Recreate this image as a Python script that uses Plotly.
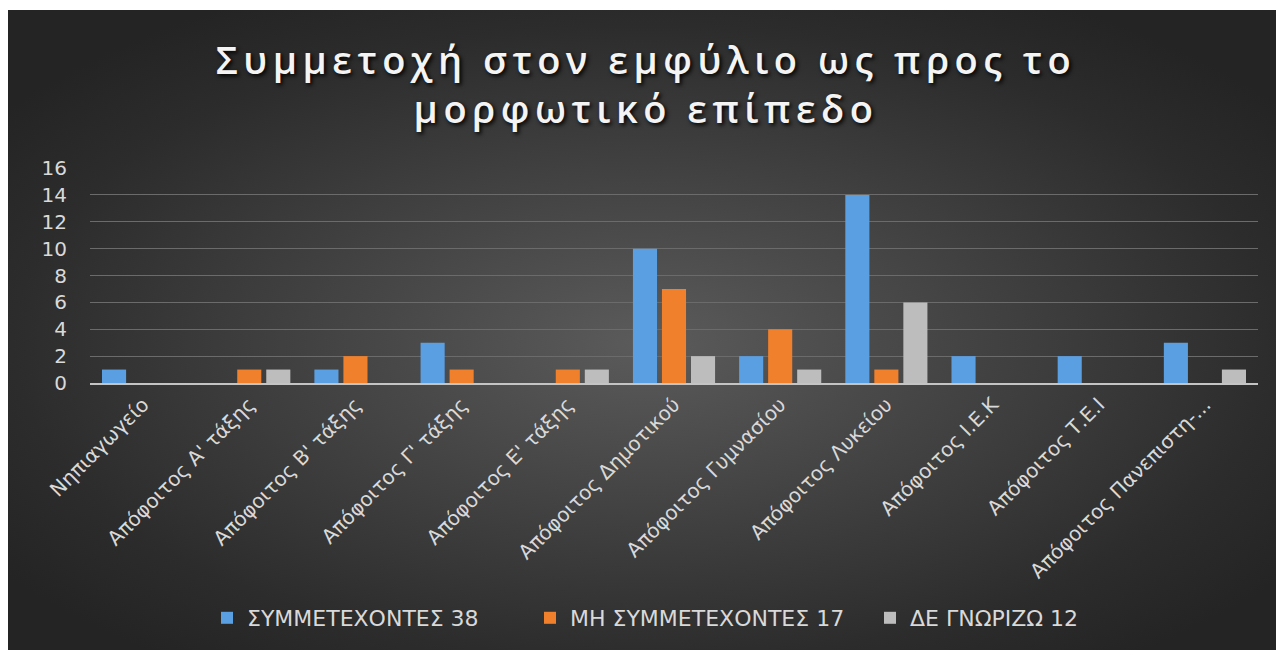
import base64
import plotly.graph_objects as go

categories = [
    "Νηπιαγωγείο",
    "Απόφοιτος Α' τάξης",
    "Απόφοιτος Β' τάξης",
    "Απόφοιτος Γ' τάξης",
    "Απόφοιτος Ε' τάξης",
    "Απόφοιτος Δημοτικού",
    "Απόφοιτος Γυμνασίου",
    "Απόφοιτος Λυκείου",
    "Απόφοιτος Ι.Ε.Κ",
    "Απόφοιτος Τ.Ε.Ι",
    "Απόφοιτος Πανεπιστη-...",
]
participants = [1, 0, 1, 3, 0, 10, 2, 14, 2, 2, 3]
non_participants = [0, 1, 2, 1, 1, 7, 4, 1, 0, 0, 0]
dont_know = [0, 1, 0, 0, 1, 2, 1, 6, 0, 0, 1]

series_names = ["ΣΥΜΜΕΤΕΧΟΝΤΕΣ 38", "ΜΗ ΣΥΜΜΕΤΕΧΟΝΤΕΣ 17", "ΔΕ ΓΝΩΡΙΖΩ 12"]
series_values = [participants, non_participants, dont_know]
series_colors = ["#5b9fe3", "#f0802c", "#bdbdbd"]

y_ticks = [0, 2, 4, 6, 8, 10, 12, 14, 16]

# page body has an 8px margin; figure sized to fit the window
W, H = 1276, 642
L, R, T, B = 82, 26, 160, 267
pw, ph = W - L - R, H - T - B

FONT = "DejaVu Sans"
TFONT = "Open Sans"
TXT = "#d9d9d9"

legend_ids = ["legend", "legend2", "legend3"]
legend_text_x = [239, 562, 902]  # figure px where each legend text starts

fig = go.Figure()
for name, vals, col, lid in zip(series_names, series_values, series_colors, legend_ids):
    fig.add_trace(go.Bar(x=categories, y=vals, name=name, legend=lid,
                         marker=dict(color=col, line=dict(width=0))))

svg = (
    "<svg xmlns='http://www.w3.org/2000/svg' width='1276' height='640' preserveAspectRatio='none'>"
    "<defs><radialGradient id='g' cx='50%' cy='52%' r='62%'>"
    "<stop offset='0' stop-color='#5b5b5b'/>"
    "<stop offset='0.8' stop-color='#2c2c2c'/>"
    "<stop offset='1' stop-color='#242424'/>"
    "</radialGradient></defs>"
    "<rect width='100%' height='100%' fill='url(#g)'/></svg>"
)
src = "data:image/svg+xml;base64," + base64.b64encode(svg.encode()).decode()

bg_x0 = (0 - L) / pw
bg_w = W / pw
bg_ytop = (H - B - 2) / ph
bg_h = (H - 2) / ph

fig.add_layout_image(dict(source=src, xref="paper", yref="paper",
                          x=bg_x0, y=bg_ytop, sizex=bg_w, sizey=bg_h,
                          xanchor="left", yanchor="top", sizing="stretch",
                          layer="below", opacity=1))

sp = "5.5px"
title_text = (f'<span style="letter-spacing:{sp}">Συμμετοχή στον εμφύλιο ως προς το</span><br>'
              f'<span style="letter-spacing:{sp}">μορφωτικό επίπεδο</span>')

legend_common = dict(orientation="h", xanchor="left", yanchor="middle",
                     y=(H - B - 610) / ph,
                     font=dict(family=FONT, size=22, color=TXT),
                     bgcolor="rgba(0,0,0,0)", itemwidth=30, borderwidth=0)

fig.update_layout(
    width=W, height=H,
    margin=dict(l=L, r=R, t=T, b=B, autoexpand=False),
    paper_bgcolor="#ffffff",
    plot_bgcolor="rgba(0,0,0,0)",
    barmode="group",
    bargap=0.18,
    bargroupgap=0.17,
    title=dict(text=title_text, x=638 / W, xanchor="center", y=1 - 66 / H, yanchor="middle",
               font=dict(family=TFONT, size=38, weight=600, color="#f4f4f4",
                         shadow="2px 2px 4px #000000")),
    font=dict(family=FONT, color=TXT),
    showlegend=True,
    legend=dict(x=(legend_text_x[0] - 40 - L) / pw, **legend_common),
    legend2=dict(x=(legend_text_x[1] - 40 - L) / pw, **legend_common),
    legend3=dict(x=(legend_text_x[2] - 40 - L) / pw, **legend_common),
    xaxis=dict(tickangle=-45, tickfont=dict(family=FONT, size=20, color=TXT),
               showline=True, linecolor="#c4c4c4", linewidth=2,
               showgrid=False, ticks="", fixedrange=True),
    yaxis=dict(range=[0, 16], tickvals=y_ticks, showgrid=True, gridcolor="#6b6b6b",
               gridwidth=1, zeroline=False, showline=False, ticks="",
               tickfont=dict(family=FONT, size=20, color=TXT),
               ticklabelstandoff=22, fixedrange=True),
)

fig.write_html("out.html")
